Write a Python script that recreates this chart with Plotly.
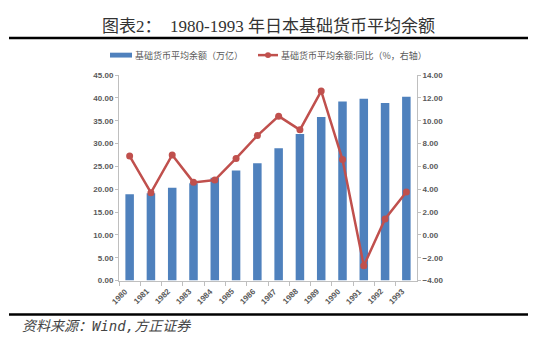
import plotly.graph_objects as go

# Japan monetary base, 1980-1993
years = ["1980", "1981", "1982", "1983", "1984", "1985", "1986",
         "1987", "1988", "1989", "1990", "1991", "1992", "1993"]
base_avg = [18.9, 19.1, 20.3, 21.3, 22.5, 24.1, 25.7,
            29.0, 32.1, 35.8, 39.2, 39.8, 38.9, 40.25]   # 万亿
base_yoy = [6.9, 3.7, 7.0, 4.6, 4.8, 6.7, 8.7,
            10.4, 9.2, 12.6, 6.6, -2.7, 1.4, 3.75]       # %, right axis

left_ticks = [0, 5, 10, 15, 20, 25, 30, 35, 40, 45]
right_ticks = [-4, -2, 0, 2, 4, 6, 8, 10, 12, 14]

title_text = "图表2：  1980-1993 年日本基础货币平均余额"
bar_name = "基础货币平均余额（万亿）"
line_name = "基础货币平均余额:同比（%，右轴）"
source_text = "资料来源：Wind,方正证券"

W, H = 550, 342
BLUE = "#4F81BD"
RED = "#C0504D"
TICK_COLOR = "#595959"
AXIS_COLOR = "#BFBFBF"
CJK = "Noto Sans CJK SC"


def px(x):
    return x / W


def py(y):
    return 1 - y / H


fig = go.Figure()
fig.add_trace(go.Bar(
    x=years, y=base_avg, name=bar_name,
    marker=dict(color=BLUE, line=dict(width=0)),
    yaxis="y",
))
fig.add_trace(go.Scatter(
    x=years, y=base_yoy, name=line_name, mode="lines+markers",
    line=dict(color=RED, width=2.5),
    marker=dict(color=RED, size=7),
    yaxis="y2",
))

tick_font = dict(family="Liberation Sans, " + CJK, size=8, color=TICK_COLOR,
                 weight="bold")

fig.update_layout(
    width=W, height=H,
    margin=dict(l=0, r=0, t=0, b=0),
    paper_bgcolor="white", plot_bgcolor="white",
    showlegend=False,
    bargap=0.6,
    xaxis=dict(
        domain=[px(119), px(417)],
        type="category",
        categoryorder="array", categoryarray=years,
        range=[-0.5, len(years) - 0.5],
        showgrid=False, zeroline=False,
        showline=True, linecolor=AXIS_COLOR, linewidth=1,
        ticks="outside", ticklen=4, tickcolor=AXIS_COLOR, tickson="boundaries",
        showticklabels=False,
        anchor="y",
    ),
    yaxis=dict(
        domain=[py(284), py(73)],
        range=[0, 45],
        tickvals=left_ticks,
        tickformat=".2f",
        showgrid=False, zeroline=False,
        showline=True, linecolor=AXIS_COLOR, linewidth=1,
        ticks="outside", ticklen=3, tickcolor=AXIS_COLOR,
        tickfont=tick_font,
        anchor="x",
    ),
    yaxis2=dict(
        range=[-4, 14],
        tickvals=right_ticks,
        tickformat=".2f",
        overlaying="y", side="right",
        showgrid=False, zeroline=False,
        showline=True, linecolor=AXIS_COLOR, linewidth=1,
        ticks="outside", ticklen=3, tickcolor=AXIS_COLOR,
        tickfont=tick_font,
        anchor="x",
    ),
)

shapes = [
    # rules above and below the chart
    dict(type="line", xref="paper", yref="paper",
         x0=px(9), x1=px(528), y0=py(35), y1=py(35),
         line=dict(color="black", width=2.5)),
    dict(type="line", xref="paper", yref="paper",
         x0=px(9), x1=px(528), y0=py(319), y1=py(319),
         line=dict(color="black", width=2.5)),
    # legend keys
    dict(type="rect", xref="paper", yref="paper",
         x0=px(110), x1=px(132), y0=py(55), y1=py(50),
         fillcolor=BLUE, line=dict(width=0)),
    dict(type="line", xref="paper", yref="paper",
         x0=px(258), x1=px(278), y0=py(52.5), y1=py(52.5),
         line=dict(color=RED, width=2.5)),
    dict(type="circle", xref="paper", yref="paper",
         x0=px(265), x1=px(271), y0=py(55.5), y1=py(49.5),
         fillcolor=RED, line=dict(width=0)),
]

annotations = [
    dict(text=title_text, xref="paper", yref="paper",
         x=px(268), y=py(23), xanchor="center", yanchor="middle",
         showarrow=False,
         font=dict(family="Liberation Serif, " + CJK, size=17, color="#333333")),
    dict(text=bar_name, xref="paper", yref="paper",
         x=px(133), y=py(52.5), xanchor="left", yanchor="middle",
         showarrow=False,
         font=dict(family=CJK, size=9, color=TICK_COLOR)),
    dict(text=line_name, xref="paper", yref="paper",
         x=px(279), y=py(52.5), xanchor="left", yanchor="middle",
         showarrow=False,
         font=dict(family=CJK, size=9, color=TICK_COLOR)),
    dict(text="<i>" + source_text + "</i>", xref="paper", yref="paper",
         x=px(20), y=py(331), xanchor="left", yanchor="middle",
         showarrow=False,
         font=dict(family="DejaVu Sans Mono, " + CJK, size=14, color="#444444")),
]

# category labels slanted at 45 degrees below the x axis,
# placed by category index on the x axis
for i, yr in enumerate(years):
    annotations.append(dict(
        text=yr, xref="x", yref="paper", x=i, y=py(288),
        xanchor="right", yanchor="top", xshift=3,
        textangle=-45, showarrow=False,
        font=dict(family="Liberation Sans", size=8, color=TICK_COLOR,
                  weight="bold"),
    ))

fig.update_layout(shapes=shapes, annotations=annotations)
fig.write_html("out.html")
